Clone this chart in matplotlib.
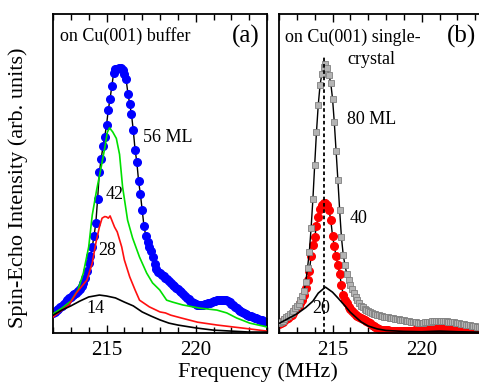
import matplotlib

matplotlib.use("Agg")
import matplotlib.pyplot as plt
import numpy as np
from matplotlib.ticker import MultipleLocator

plt.rcParams["font.family"] = ["Liberation Serif", "DejaVu Serif"]

# frequency grid of the point spectra (MHz), 0.1 MHz steps
freq = np.round(np.arange(212.0, 224.05, 0.1), 1)

# (a) 56 ML on Cu(001) buffer, blue dots
buf_56 = [
    0.064, 0.067, 0.071, 0.075, 0.080, 0.085, 0.091, 0.098, 0.104, 0.109,
    0.114, 0.118, 0.122, 0.126, 0.131, 0.137, 0.146, 0.158, 0.174, 0.195,
    0.218, 0.240, 0.270, 0.305, 0.345, 0.420, 0.505, 0.545, 0.585, 0.615,
    0.652, 0.700, 0.735, 0.775, 0.815, 0.826, 0.828, 0.832, 0.830, 0.824,
    0.812, 0.795, 0.750, 0.718, 0.685, 0.635, 0.575, 0.535, 0.475, 0.435,
    0.385, 0.335, 0.305, 0.285, 0.270, 0.257, 0.237, 0.217, 0.200, 0.192,
    0.187, 0.183, 0.178, 0.174, 0.170, 0.164, 0.157, 0.150, 0.146, 0.142,
    0.138, 0.133, 0.128, 0.123, 0.117, 0.111, 0.106, 0.101, 0.097, 0.094,
    0.091, 0.089, 0.088, 0.088, 0.089, 0.090, 0.092, 0.093, 0.095, 0.097,
    0.099, 0.101, 0.102, 0.103, 0.104, 0.104, 0.104, 0.103, 0.101, 0.097,
    0.092, 0.087, 0.082, 0.077, 0.073, 0.069, 0.066, 0.063, 0.060, 0.057,
    0.054, 0.052, 0.050, 0.048, 0.046, 0.044, 0.042, 0.040, 0.038, 0.036,
    0.034,
]

# (a) thinner buffer films, lines
f_42 = [212.0, 212.5, 213.0, 213.4, 213.7, 214.0, 214.2, 214.45, 214.7, 214.9,
        215.05, 215.17, 215.35, 215.55, 215.73, 215.9, 216.18, 216.46, 216.85,
        217.25, 217.58, 217.98, 218.37, 218.7, 219.27, 220.22, 221.18, 221.74,
        222.3, 223.03, 224.0]
buf_42 = [0.06, 0.078, 0.10, 0.135, 0.188, 0.27, 0.37, 0.45, 0.52, 0.58,
          0.63, 0.643, 0.63, 0.61, 0.56, 0.458, 0.354, 0.298, 0.238,
          0.188, 0.157, 0.135, 0.103, 0.097, 0.088, 0.078, 0.072, 0.063,
          0.047, 0.031, 0.019]

f_28 = [212.0, 212.3, 212.9, 213.3, 213.9, 214.2, 214.4, 214.6, 214.75, 214.9,
        215.0, 215.1, 215.2, 215.45, 215.6, 215.85, 216.0, 216.3, 216.6,
        216.85, 217.4, 218.0, 218.3, 218.6, 219.2, 220.1, 221.2, 222.1,
        223.0, 224.0]
buf_28 = [0.05, 0.063, 0.088, 0.125, 0.166, 0.219, 0.282, 0.332, 0.36, 0.365,
          0.364, 0.36, 0.367, 0.332, 0.317, 0.27, 0.229, 0.176, 0.135,
          0.103, 0.082, 0.066, 0.063, 0.056, 0.047, 0.034, 0.025, 0.019,
          0.013, 0.006]

f_14 = [212.0, 212.5, 213.0, 213.5, 214.0, 214.6, 215.0, 215.5, 216.0, 216.5,
        217.0, 217.5, 218.0, 218.5, 219.0, 220.0, 221.0, 222.0, 223.0, 224.0]
buf_14 = [0.056, 0.072, 0.085, 0.10, 0.113, 0.119, 0.116, 0.11, 0.097, 0.085,
          0.066, 0.053, 0.041, 0.031, 0.025, 0.016, 0.009, 0.006, 0.003, 0.003]

# (b) on Cu(001) single crystal
xtal_80 = [
    0.032, 0.035, 0.039, 0.044, 0.049, 0.054, 0.059, 0.064, 0.070, 0.077,
    0.084, 0.092, 0.102, 0.115, 0.132, 0.160, 0.205, 0.255, 0.330, 0.420,
    0.527, 0.630, 0.715, 0.777, 0.812, 0.834, 0.843, 0.830, 0.808, 0.784,
    0.735, 0.660, 0.570, 0.480, 0.385, 0.300, 0.245, 0.212, 0.185, 0.165,
    0.150, 0.137, 0.125, 0.113, 0.103, 0.094, 0.086, 0.080, 0.075, 0.071,
    0.068, 0.065, 0.063, 0.061, 0.059, 0.057, 0.055, 0.053, 0.052, 0.051,
    0.050, 0.049, 0.048, 0.047, 0.046, 0.045, 0.044, 0.043, 0.042, 0.041,
    0.040, 0.039, 0.038, 0.037, 0.036, 0.035, 0.034, 0.033, 0.032, 0.032,
    0.032, 0.032, 0.033, 0.034, 0.035, 0.036, 0.037, 0.038, 0.038, 0.039,
    0.039, 0.039, 0.038, 0.038, 0.037, 0.036, 0.035, 0.034, 0.033, 0.032,
    0.031, 0.030, 0.029, 0.028, 0.027, 0.026, 0.025, 0.024, 0.023, 0.022,
    0.021, 0.020, 0.019, 0.019, 0.018, 0.018, 0.017, 0.017, 0.016, 0.016,
    0.015,
]
xtal_40 = [
    0.028, 0.032, 0.036, 0.040, 0.044, 0.048, 0.053, 0.058, 0.064, 0.071,
    0.078, 0.086, 0.095, 0.105, 0.118, 0.140, 0.165, 0.195, 0.240, 0.275,
    0.300, 0.335, 0.365, 0.390, 0.402, 0.408, 0.408, 0.400, 0.385, 0.355,
    0.305, 0.272, 0.240, 0.212, 0.185, 0.150, 0.120, 0.105, 0.093, 0.082,
    0.075, 0.068, 0.062, 0.058, 0.054, 0.050, 0.047, 0.043, 0.040, 0.037,
    0.034, 0.030, 0.026, 0.022, 0.018, 0.015, 0.012, 0.010, 0.009, 0.008,
    0.008, 0.008, 0.007, 0.007, 0.007, 0.007, 0.007, 0.007, 0.007, 0.007,
    0.007, 0.007, 0.007, 0.007, 0.007, 0.007, 0.008, 0.008, 0.008, 0.009,
    0.009, 0.010, 0.010, 0.011, 0.011, 0.012, 0.012, 0.013, 0.013, 0.013,
    0.014, 0.014, 0.014, 0.013, 0.013, 0.012, 0.012, 0.011, 0.010, 0.010,
    0.009, 0.009, 0.008, 0.008, 0.008, 0.007, 0.007, 0.007, 0.007, 0.007,
    0.006, 0.006, 0.006, 0.006, 0.006, 0.006, 0.006, 0.006, 0.006, 0.006,
    0.006,
]
f_20 = [212.0, 212.5, 213.0, 213.5, 213.9, 214.2, 214.6, 215.0, 215.3, 215.7,
        216.0, 216.3, 216.6, 217.0, 217.5, 218.0, 219.0, 220.0, 221.0, 222.0,
        223.0, 224.0]
xtal_20 = [0.03, 0.045, 0.06, 0.08, 0.10, 0.125, 0.144, 0.128, 0.11, 0.085,
           0.065, 0.05, 0.035, 0.022, 0.013, 0.008, 0.005, 0.004, 0.006, 0.004,
           0.003, 0.002]
peak_b = 214.55

fig = plt.figure(figsize=(4.79, 3.83), dpi=100)
ax_a = fig.add_axes([0.1107, 0.1305, 0.4468, 0.833])
ax_b = fig.add_axes([0.5825, 0.1305, 0.4468, 0.833])

# panel (a)
ax_a.plot(freq, buf_56, "-o", color="black", lw=1.0, ms=5.5,
          mfc="#0000ff", mec="#0000ff", zorder=2)
ax_a.plot(f_42, buf_42, color="#00e000", lw=1.2, zorder=3)
ax_a.plot(f_28, buf_28, color="#ff1010", lw=1.2, zorder=3)
ax_a.plot(f_14, buf_14, color="black", lw=1.2, zorder=3)

# panel (b)
ax_b.plot(freq, xtal_40, "-o", color="black", lw=1.0, ms=5.5,
          mfc="#ff0000", mec="#ff0000", zorder=2)
ax_b.plot(freq, xtal_80, "-s", color="black", lw=1.0, ms=5,
          mfc="#b4b4b4", mec="#808080", mew=0.6, zorder=3)
ax_b.plot(f_20, xtal_20, color="black", lw=1.2, zorder=4)
ax_b.vlines(peak_b, 0, 0.87, color="black", lw=1.3,
            linestyles=(0, (2, 1.5)), zorder=5)

for ax in (ax_a, ax_b):
    ax.set_xlim(212, 224)
    ax.set_ylim(0, 1)
    ax.xaxis.set_major_locator(MultipleLocator(5))
    ax.xaxis.set_minor_locator(MultipleLocator(1))
    ax.tick_params(axis="x", which="both", direction="in", top=True,
                   labelsize=15, width=1)
    ax.tick_params(axis="x", which="major", length=6, pad=6)
    ax.tick_params(axis="x", which="minor", length=4)
    ax.tick_params(axis="y", left=False, labelleft=False)
    for s in ax.spines.values():
        s.set_linewidth(1.3)

tkw = dict(fontsize=13, va="center", ha="left")
ax_a.text(0.033, 0.931, "on Cu(001) buffer", transform=ax_a.transAxes, **tkw)
ax_a.text(0.836, 0.931, "(a)", transform=ax_a.transAxes, fontsize=18,
          va="center", ha="left")
ax_a.text(0.42, 0.614, "56 ML", transform=ax_a.transAxes, **tkw)
ax_a.text(0.248, 0.433, "42", transform=ax_a.transAxes, **tkw)
ax_a.text(0.21, 0.26, "28", transform=ax_a.transAxes, **tkw)
ax_a.text(0.154, 0.078, "14", transform=ax_a.transAxes, **tkw)

ax_b.text(0.028, 0.928, "on Cu(001) single-", transform=ax_b.transAxes, **tkw)
ax_b.text(0.318, 0.856, "crystal", transform=ax_b.transAxes, **tkw)
ax_b.text(0.785, 0.931, "(b)", transform=ax_b.transAxes, fontsize=18,
          va="center", ha="left")
ax_b.text(0.318, 0.668, "80 ML", transform=ax_b.transAxes, **tkw)
ax_b.text(0.332, 0.36, "40", transform=ax_b.transAxes, **tkw)
ax_b.text(0.154, 0.078, "20", transform=ax_b.transAxes, **tkw)

fig.text(258 / 479, 1 - 372 / 383, "Frequency (MHz)", fontsize=16,
         ha="center", va="center")
fig.text(18 / 479, 1 - 188 / 383, "Spin-Echo Intensity (arb. units)",
         fontsize=16, rotation=90, ha="center", va="center")

fig.savefig("out.png", dpi=100)
